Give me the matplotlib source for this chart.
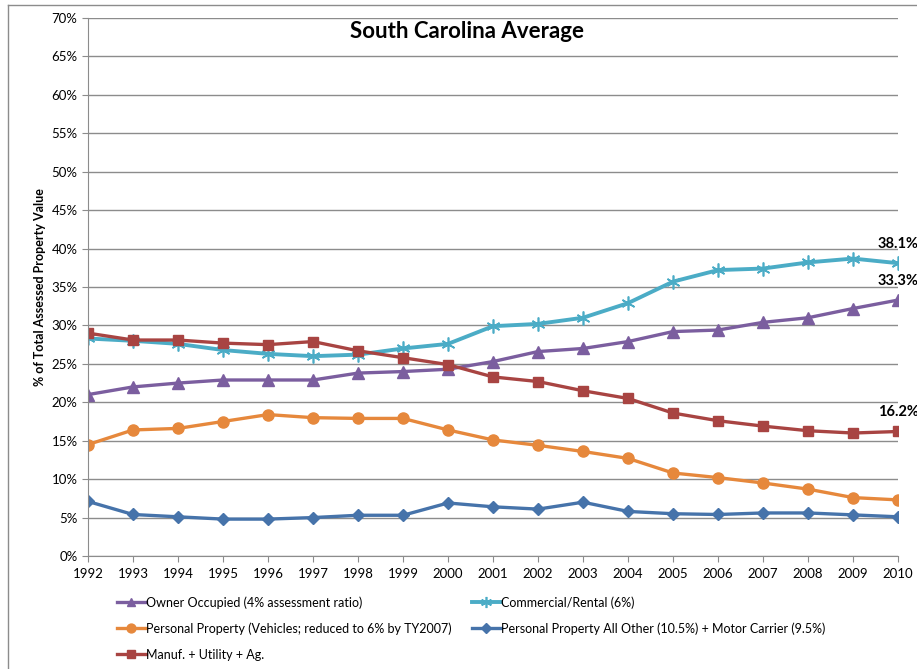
import matplotlib
matplotlib.use("Agg")
import matplotlib.pyplot as plt
from matplotlib.lines import Line2D

plt.rcParams['font.family'] = ['Lato', 'DejaVu Sans']

years = list(range(1992, 2011))

owner = [21.0, 22.0, 22.5, 22.9, 22.9, 22.9, 23.8, 24.0, 24.3, 25.3,
         26.6, 27.0, 27.9, 29.2, 29.4, 30.4, 31.0, 32.2, 33.3]
commercial = [28.3, 28.0, 27.6, 26.8, 26.3, 26.0, 26.2, 27.0, 27.6, 29.9,
              30.2, 31.0, 32.9, 35.7, 37.2, 37.4, 38.2, 38.7, 38.1]
personal = [14.5, 16.4, 16.6, 17.5, 18.4, 18.0, 17.9, 17.9, 16.4, 15.1,
            14.4, 13.6, 12.7, 10.8, 10.2, 9.5, 8.7, 7.6, 7.3]
pp_other = [7.1, 5.4, 5.1, 4.8, 4.8, 5.0, 5.3, 5.3, 6.9, 6.4,
            6.1, 7.0, 5.8, 5.5, 5.4, 5.6, 5.6, 5.35, 5.1]
manuf = [29.0, 28.1, 28.1, 27.7, 27.5, 27.9, 26.7, 25.8, 24.9, 23.3,
         22.7, 21.5, 20.5, 18.6, 17.6, 16.9, 16.3, 16.0, 16.2]

labels = ["Owner Occupied (4% assessment ratio)",
          "Commercial/Rental (6%)",
          "Personal Property (Vehicles; reduced to 6% by TY2007)",
          "Personal Property All Other (10.5%) + Motor Carrier (9.5%)",
          "Manuf. + Utility + Ag."]

c_owner = '#7B5E9F'
c_comm = '#4BACC6'
c_pers = '#E6883C'
c_pp = '#4673AA'
c_manuf = '#A84442'

fig = plt.figure(figsize=(9.17, 6.69), dpi=100)
ax = fig.add_axes([88/917, 1 - 556/669, (898-88)/917, (556-18)/669])

lw = 2.4
l_owner, = ax.plot(years, owner, color=c_owner, lw=lw, marker='^', ms=8, label=labels[0])
l_comm, = ax.plot(years, commercial, color=c_comm, lw=lw + 0.4, marker=(6, 2, 0), ms=10,
                  mew=1.2, label=labels[1])
l_pers, = ax.plot(years, personal, color=c_pers, lw=lw, marker='o', ms=8, label=labels[2])
l_pp, = ax.plot(years, pp_other, color=c_pp, lw=lw, marker='D', ms=6, label=labels[3])
l_manuf, = ax.plot(years, manuf, color=c_manuf, lw=lw, marker='s', ms=7.5, label=labels[4])

# end labels
for vals in (commercial, owner, manuf):
    ax.annotate(f"{vals[-1]:.1f}%", (years[-1], vals[-1]), xytext=(0, 9),
                textcoords='offset points', ha='center', va='bottom',
                fontsize=10.5, fontweight='bold', annotation_clip=False)

ax.set_xlim(1992, 2010)
ax.set_ylim(0, 70)
ax.set_xticks(years)
ax.set_xticklabels([str(y) for y in years], fontsize=9.5)
ax.set_yticks(range(0, 71, 5))
ax.set_yticklabels([f"{v}%" for v in range(0, 71, 5)], fontsize=9.5)
ax.grid(axis='y', color='#8c8c8c', lw=1)
ax.set_axisbelow(True)
for s in ('top', 'right'):
    ax.spines[s].set_visible(False)
for s in ('left', 'bottom'):
    ax.spines[s].set_color('#8c8c8c')
ax.tick_params(axis='both', colors='#8c8c8c', labelcolor='black', length=4)
ax.tick_params(axis='x', pad=5)
ax.set_ylabel("% of Total Assessed Property Value", fontsize=9, fontweight='bold', labelpad=4)

ax.text(0.468, (556 - 32) / 538, "South Carolina Average", transform=ax.transAxes,
        ha='center', va='center', fontsize=16, fontweight='bold')

handles = [l_owner, l_pers, l_manuf, l_comm, l_pp]
leg = fig.legend(handles, [h.get_label() for h in handles], ncol=2, loc='upper left',
                 bbox_to_anchor=(112/917, 1 - 591/669), frameon=False, fontsize=9,
                 handlelength=2.3, handletextpad=0.05, columnspacing=1.6, labelspacing=1.1,
                 markerscale=0.8, borderaxespad=0)

# chart area border
fig.add_artist(Line2D([8/917, 1], [1 - 5/669, 1 - 5/669], color='#8c8c8c', lw=1))
fig.add_artist(Line2D([8/917, 8/917], [0, 1 - 5/669], color='#8c8c8c', lw=1))

fig.savefig("out.png", dpi=100)
